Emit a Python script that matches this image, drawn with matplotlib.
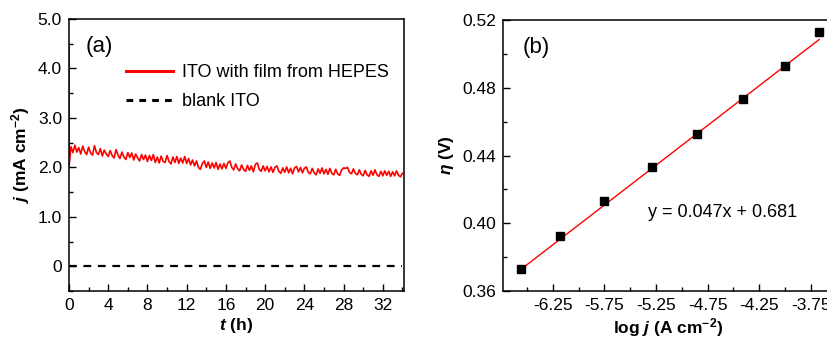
import numpy as np
import matplotlib.pyplot as plt
from matplotlib.lines import Line2D
from matplotlib.ticker import FixedLocator

plt.rcParams['font.family'] = ['Liberation Sans', 'DejaVu Sans']
plt.rcParams['mathtext.fontset'] = 'custom'
plt.rcParams['mathtext.rm'] = 'Liberation Sans:bold'
plt.rcParams['mathtext.it'] = 'Liberation Sans:italic:bold'
plt.rcParams['mathtext.bf'] = 'Liberation Sans:bold'

# (a) chronoamperometry, j in mA cm^-2, sampled every 0.2 h
T_STEP = 0.2
spike_t = [0.0, 0.0]
spike_j = [4.5, 2.0]
j_film = [
    2.42, 2.30, 2.45, 2.31, 2.40, 2.27, 2.43, 2.32, 2.26, 2.41, 2.29, 2.25, 2.44, 2.30, 2.26, 2.38, 2.23, 2.35, 2.27, 2.22,
    2.34, 2.24, 2.19, 2.36, 2.25, 2.18, 2.31, 2.21, 2.16, 2.30, 2.20, 2.29, 2.15, 2.27, 2.19, 2.13, 2.26, 2.16, 2.25, 2.12,
    2.24, 2.14, 2.26, 2.10, 2.21, 2.09, 2.23, 2.12, 2.10, 2.24, 2.12, 2.07, 2.21, 2.10, 2.22, 2.08, 2.19, 2.09, 2.22, 2.08,
    2.18, 2.05, 2.15, 2.03, 2.13, 2.00, 1.96, 2.08, 2.13, 2.00, 2.11, 1.98, 2.09, 1.99, 2.10, 1.96, 2.07, 1.97, 2.08, 1.98,
    2.09, 2.13, 2.00, 1.95, 2.07, 1.97, 1.93, 2.05, 1.96, 1.92, 2.04, 1.94, 2.03, 1.91, 2.06, 2.09, 1.96, 1.92, 2.03, 1.93,
    2.02, 1.91, 2.01, 1.90, 2.00, 2.03, 1.92, 1.88, 1.99, 1.90, 2.01, 1.89, 1.98, 1.87, 1.99, 2.02, 1.91, 2.00, 1.89, 1.98,
    2.01, 1.90, 1.87, 1.98, 1.89, 1.85, 1.97, 1.88, 1.99, 1.87, 1.96, 1.86, 1.98, 1.88, 1.85, 1.96, 1.87, 1.84, 1.95, 1.99,
    1.98, 2.00, 1.90, 1.87, 1.97, 1.88, 1.85, 1.95, 1.86, 1.83, 1.94, 1.85, 1.82, 1.93, 1.84, 1.95, 1.85, 1.82, 1.92, 1.83,
    1.93, 1.84, 1.92, 1.82, 1.91, 1.83, 1.93, 1.84, 1.81, 1.88,
]
t_film = np.arange(1, len(j_film) + 1) * T_STEP
blank_t = [0, 34]
blank_j = [0, 0]

# (b) Tafel plot
log_j = [-6.56, -6.18, -5.75, -5.29, -4.85, -4.41, -4.00, -3.67]
eta = [0.3728, 0.3927, 0.4130, 0.4330, 0.4530, 0.4732, 0.4929, 0.5131]
slope, intercept = 0.047, 0.681

fig = plt.figure(figsize=(8.27, 3.40), dpi=100)
ax1 = fig.add_axes([0.0834, 0.144, 0.405, 0.800])
ax2 = fig.add_axes([0.608, 0.144, 0.400, 0.797])

for ax in (ax1, ax2):
    for s in ax.spines.values():
        s.set_linewidth(1.1)
    ax.tick_params(which='both', direction='in', labelsize=12.5, width=1.0, top=False, right=False)
    ax.tick_params(which='major', length=5, pad=5)
    ax.tick_params(which='minor', length=3)

# panel (a)
ax1.plot(np.concatenate([spike_t, t_film]), np.concatenate([spike_j, j_film]),
         color='#ff0000', lw=1.2)
ax1.plot(blank_t, blank_j, color='black', lw=1.6, dashes=(3.5, 3))
ax1.set_xlim(0, 34.15)
ax1.set_ylim(-0.5, 5.0)
ax1.set_xticks([0, 4, 8, 12, 16, 20, 24, 28, 32])
ax1.xaxis.set_minor_locator(FixedLocator([2, 6, 10, 14, 18, 22, 26, 30, 34]))
ax1.set_yticks([0, 1, 2, 3, 4, 5])
ax1.yaxis.set_minor_locator(FixedLocator([-0.5, 0.5, 1.5, 2.5, 3.5, 4.5]))
ax1.set_yticklabels(['0', '1.0', '2.0', '3.0', '4.0', '5.0'])
ax1.set_xlabel(r'$t$ (h)', fontsize=12.5, fontweight='bold', labelpad=2)
ax1.set_ylabel(r'$j$ (mA cm$^{\mathbf{-2}}$)', fontsize=12.5, fontweight='bold', labelpad=4)
ax1.text(0.05, 0.88, '(a)', transform=ax1.transAxes, fontsize=16)
handles = [Line2D([], [], color='#ff0000', lw=2.2),
           Line2D([], [], color='black', lw=2.2, dashes=(2.2, 2))]
ax1.legend(handles, ['ITO with film from HEPES', 'blank ITO'], loc='upper left',
           bbox_to_anchor=(0.15, 0.86), frameon=False, fontsize=13,
           handlelength=2.6, handletextpad=0.5, labelspacing=0.65, borderaxespad=0)

# panel (b)
fit_x = np.array([log_j[0], log_j[-1]])
ax2.plot(fit_x, slope * fit_x + intercept, color='#ff0000', lw=1.0)
ax2.plot(log_j, eta, 's', color='black', markersize=5.5)
ax2.set_xlim(-6.733, -3.53)
ax2.set_ylim(0.36, 0.52)
ax2.set_xticks([-6.25, -5.75, -5.25, -4.75, -4.25, -3.75])
ax2.set_xticklabels(['-6.25', '-5.75', '-5.25', '-4.75', '-4.25', '-3.75'])
ax2.xaxis.set_minor_locator(FixedLocator([-6.5, -6.0, -5.5, -5.0, -4.5, -4.0]))
ax2.set_yticks([0.36, 0.40, 0.44, 0.48, 0.52])
ax2.set_yticklabels(['0.36', '0.40', '0.44', '0.48', '0.52'])
ax2.yaxis.set_minor_locator(FixedLocator([0.38, 0.42, 0.46, 0.50]))
ax2.set_xlabel(r'log $j$ (A cm$^{\mathbf{-2}}$)', fontsize=12.5, fontweight='bold', labelpad=2)
ax2.set_ylabel(r'$\eta$ (V)', fontsize=12.5, fontweight='bold', labelpad=4)
ax2.text(0.06, 0.88, '(b)', transform=ax2.transAxes, fontsize=16)
ax2.text(0.44, 0.275, 'y = 0.047x + 0.681', transform=ax2.transAxes, fontsize=13)

fig.savefig('out.png', dpi=100)
